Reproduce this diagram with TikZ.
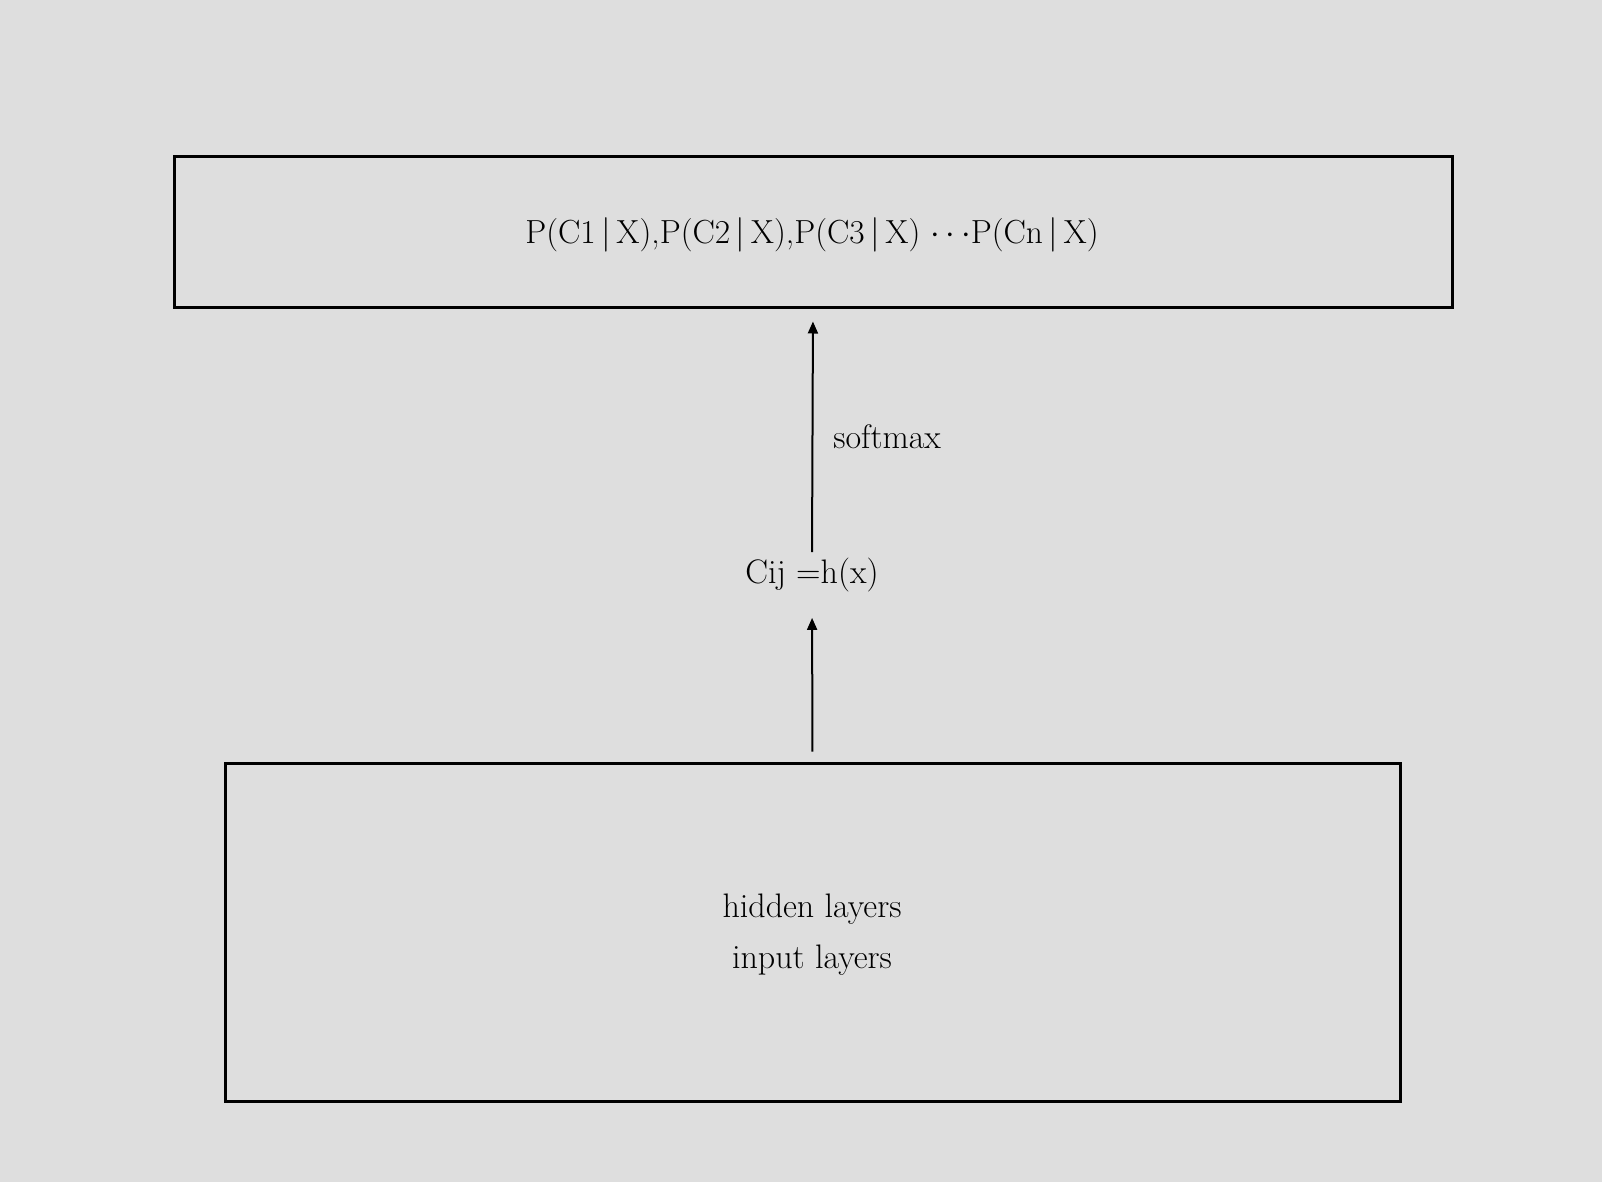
\documentclass[tikz,border=0pt]{standalone}
\usetikzlibrary{arrows.meta}
\definecolor{bg}{RGB}{222,222,222}
\begin{document}
\begin{tikzpicture}[x=0.5pt,y=-0.5pt,
  box/.style={draw=black, line width=1.5pt, inner sep=0pt},
  lbl/.style={font=\fontsize{17}{20}\selectfont, inner sep=0pt},
  arr/.style={draw=black, line width=1pt, -{Triangle[length=6pt,width=5pt]}}]
\fill[bg] (0,0) rectangle (1602,1182);
\useasboundingbox (0,0) rectangle (1602,1182);
\node[box, minimum width=639pt, minimum height=75.5pt] (top) at (813,232.5) {};
\node[box, minimum width=587.5pt, minimum height=169pt] (bot) at (812.5,932) {};
\node[lbl, font=\fontsize{16.7}{20}\selectfont, anchor=base] (ptext) at (812,244) {P(C1\,$|$\,X),P(C2\,$|$\,X),P(C3\,$|$\,X) $\cdots$P(Cn\,$|$\,X)};
\node[lbl, anchor=base] (cij) at (812,583) {Cij =h(x)};
\node[lbl, anchor=base west] (soft) at (833,448) {softmax};
\node[lbl, anchor=base] (hid) at (812,917) {hidden layers};
\node[lbl, anchor=base] (inp) at (812,968) {input layers};
\draw[arr, shorten <=2.5pt, shorten >=6pt] (cij.north) -- (top.south);
\draw[arr, shorten <=5pt, shorten >=13pt] (bot.north) -- (cij.south);
\end{tikzpicture}
\end{document}
